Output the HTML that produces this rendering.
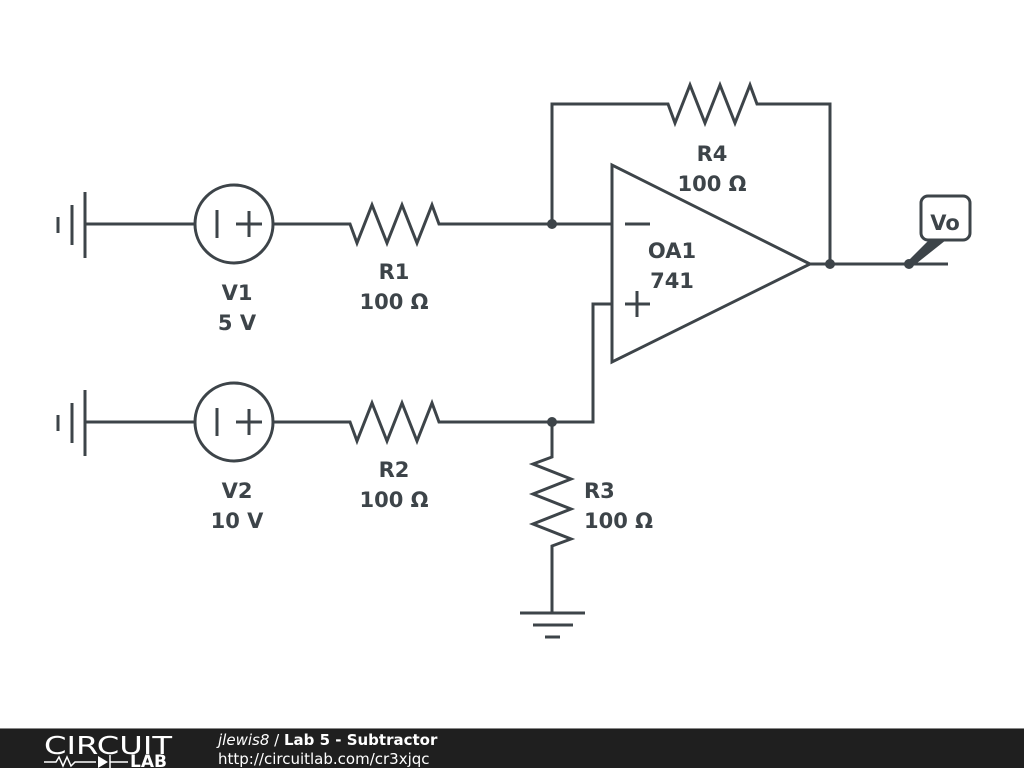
<!DOCTYPE html>
<html><head><meta charset="utf-8"><style>
html,body{margin:0;padding:0;background:#fff;}
svg{display:block;}
text{font-family:"DejaVu Sans","Liberation Sans",sans-serif;fill:#3d4449;}
</style></head><body>
<svg width="1024" height="768" viewBox="0 0 1024 768" xmlns="http://www.w3.org/2000/svg">
<g stroke="#3d4449" stroke-width="3" fill="none" stroke-linejoin="miter">
<!-- V1 row -->
<line x1="58" y1="217" x2="58" y2="233"/>
<line x1="72" y1="205" x2="72" y2="245"/>
<line x1="85" y1="192" x2="85" y2="258"/>
<line x1="85" y1="224" x2="195" y2="224"/>
<circle cx="234" cy="224" r="39"/>
<line x1="217" y1="210" x2="217" y2="238"/>
<line x1="236" y1="224" x2="262" y2="224"/>
<line x1="249" y1="211" x2="249" y2="237"/>
<polyline points="273,224 350,224 357,243 372,205 387,243 402,205 417,243 432,205 439,224 612,224"/>
<!-- V2 row -->
<line x1="58" y1="415" x2="58" y2="431"/>
<line x1="72" y1="403" x2="72" y2="443"/>
<line x1="85" y1="390" x2="85" y2="456"/>
<line x1="85" y1="422" x2="195" y2="422"/>
<circle cx="234" cy="422" r="39"/>
<line x1="217" y1="408" x2="217" y2="436"/>
<line x1="236" y1="422" x2="262" y2="422"/>
<line x1="249" y1="409" x2="249" y2="435"/>
<polyline points="273,422 350,422 357,441 372,403 387,441 402,403 417,441 432,403 439,422 593,422 593,304 612,304"/>
<!-- R3 -->
<polyline points="552,422 552,457 533,464 571,479 533,494 571,509 533,524 571,539 552,546 552,613"/>
<line x1="520" y1="613" x2="585" y2="613"/>
<line x1="533" y1="625" x2="573" y2="625"/>
<line x1="545" y1="637" x2="560" y2="637"/>
<!-- R4 feedback -->
<polyline points="552,224 552,104 668,104 675,123 690,85 705,123 720,85 735,123 750,85 757,104 830,104 830,264"/>
<!-- opamp -->
<polygon points="612,165 612,362 810,264"/>
<line x1="625" y1="224" x2="650" y2="224"/>
<line x1="625" y1="304" x2="650" y2="304"/>
<line x1="637" y1="291" x2="637" y2="317"/>
<line x1="810" y1="264" x2="948" y2="264"/>
<rect x="921" y="196" width="49" height="44" rx="7" fill="#fff"/>
</g>
<g fill="#3d4449">
<circle cx="552" cy="224" r="5"/>
<circle cx="552" cy="422" r="5"/>
<circle cx="830" cy="264" r="5"/>
<circle cx="909" cy="264" r="5"/>
<polygon points="907,262 929,240 946,240 912,267"/>
</g>
<g font-size="21" font-weight="bold" text-anchor="middle">
<text x="945" y="230">Vo</text>
<text x="237" y="300">V1</text><text x="237" y="330">5 V</text>
<text x="237" y="498">V2</text><text x="237" y="528">10 V</text>
<text x="394" y="279">R1</text><text x="394" y="309">100 Ω</text>
<text x="394" y="477">R2</text><text x="394" y="507">100 Ω</text>
<text x="712" y="161">R4</text><text x="712" y="191">100 Ω</text>
<text x="672" y="258">OA1</text><text x="672" y="288">741</text>
</g>
<g font-size="21" font-weight="bold">
<text x="584" y="498">R3</text><text x="584" y="528">100 Ω</text>
</g>
<rect x="0" y="729" width="1024" height="39" fill="#1f1f1f"/>
<rect x="0" y="728" width="1024" height="1" fill="#888"/>
<text x="44" y="754" font-size="25" style="fill:#fff" font-family="Liberation Sans" textLength="128" lengthAdjust="spacingAndGlyphs">CIRCUIT</text>
<g stroke="#fff" stroke-width="1.5" fill="none"><polyline points="44,762 56,762 59,757 63,766 67,757 71,766 75,762 96,762"/><line x1="110" y1="755" x2="110" y2="768"/><line x1="110" y1="762" x2="128" y2="762"/></g>
<polygon points="98,756 98,768 108,762" fill="#fff"/>
<text x="130" y="767" font-size="17" font-weight="bold" style="fill:#fff">LAB</text>
<text x="218" y="745" font-size="15" style="fill:#fff"><tspan font-style="italic">jlewis8</tspan> / <tspan font-weight="bold">Lab 5 - Subtractor</tspan></text>
<text x="218" y="764" font-size="15" style="fill:#fff">http://circuitlab.com/cr3xjqc</text>
</svg>
</body></html>
